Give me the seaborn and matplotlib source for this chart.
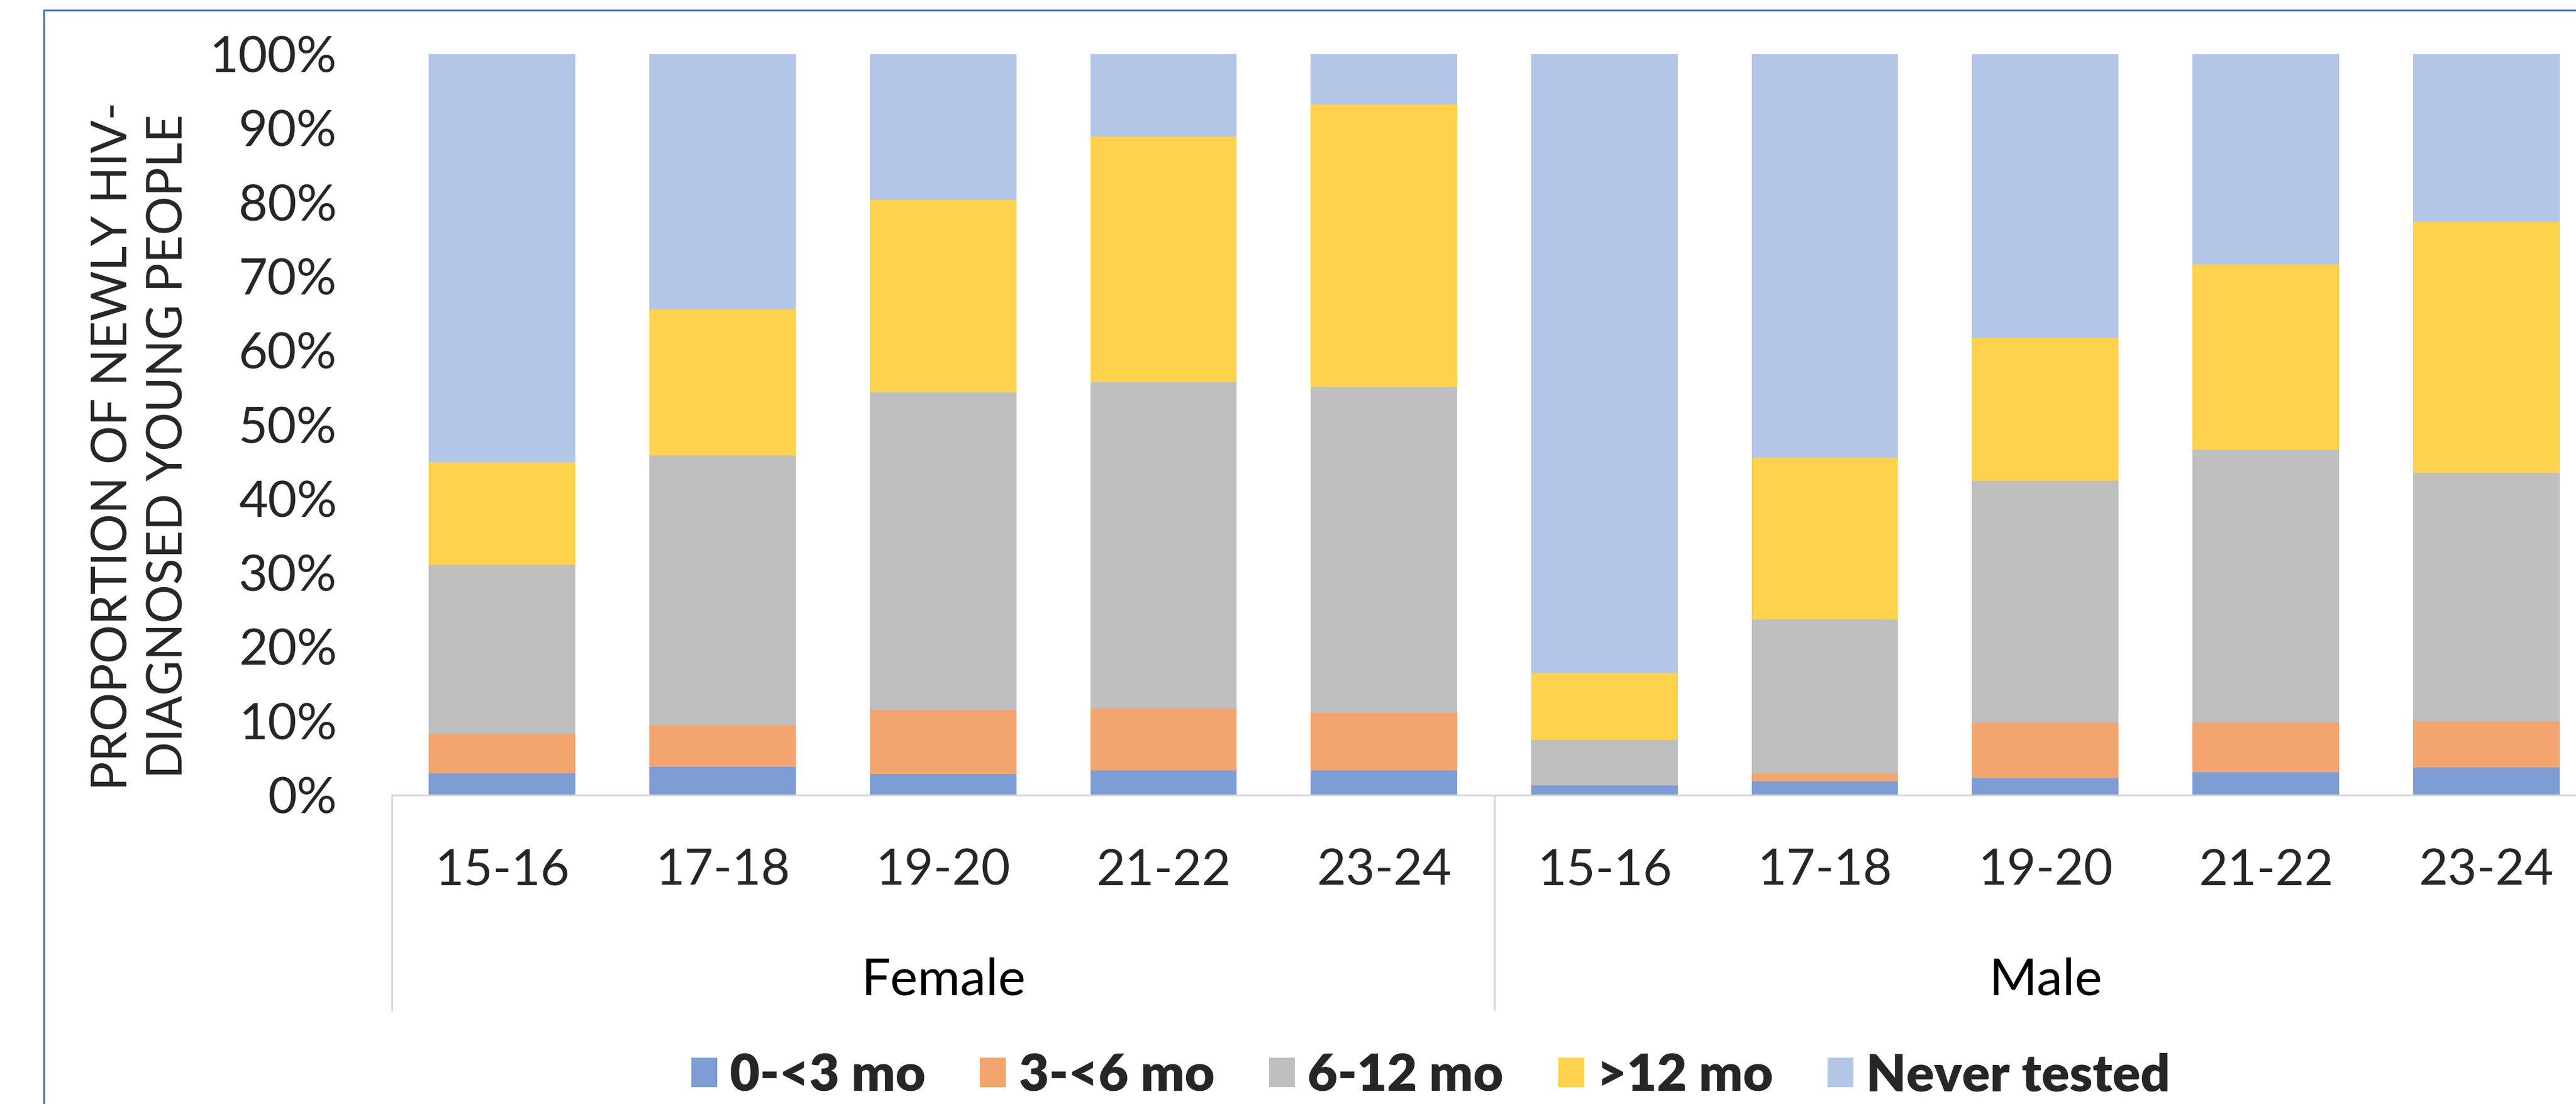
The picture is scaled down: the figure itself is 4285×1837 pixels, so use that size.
import numpy as np
import pandas as pd
import matplotlib
matplotlib.use("Agg")
import matplotlib.pyplot as plt
import matplotlib.transforms as mtransforms
from matplotlib.patches import Patch
import seaborn as sns

# ---------------- data ----------------
genders = ["Female", "Male"]
age_groups = ["15-16", "17-18", "19-20", "21-22", "23-24"]
series = ["0-<3 mo", "3-<6 mo", "6-12 mo", ">12 mo", "Never tested"]

# values in percent, one per bar (Female ages then Male ages)
v_0_3 = [2.9, 3.8, 2.8, 3.3, 3.3, 1.3, 1.9, 2.3, 3.1, 3.7]
v_3_6 = [5.4, 5.6, 8.6, 8.4, 7.8, 0.0, 1.0, 7.4, 6.7, 6.3]
v_6_12 = [22.8, 36.4, 42.9, 44.0, 44.0, 6.2, 20.8, 32.7, 36.8, 33.5]
v_12p = [13.8, 19.7, 26.0, 33.1, 38.1, 9.0, 21.8, 19.3, 25.0, 33.9]
v_never = [55.1, 34.5, 19.7, 11.2, 6.8, 83.5, 54.5, 38.3, 28.4, 22.6]

colors = ["#7F9DD5", "#F3A56F", "#BFBFBF", "#FFD24D", "#B4C6E7"]
border_blue = "#4472C4"

# ---------------- figure ----------------
sns.set_theme(style="white")
plt.rcParams["font.family"] = ["Lato", "DejaVu Sans"]

W, H = 4285, 1837
DPI = 100
fig = plt.figure(figsize=(W / DPI, H / DPI), dpi=DPI)

# blue frame lines (left and top)
fig.add_artist(plt.Line2D([73 / W, 73 / W], [0, 1 - 17 / H], color=border_blue, lw=2.2))
fig.add_artist(plt.Line2D([73 / W, 1], [1 - 17 / H, 1 - 17 / H], color=border_blue, lw=2.2))

ax_left, ax_right = 652, 4319
ax_top, ax_bot = 90, 1323
ax = fig.add_axes([ax_left / W, 1 - ax_bot / H, (ax_right - ax_left) / W, (ax_bot - ax_top) / H])

keys = [f"{g} {a}" for g in genders for a in age_groups]
vals = np.array([v_0_3, v_3_6, v_6_12, v_12p, v_never])
cum = np.cumsum(vals, axis=0)
cum = cum / cum[-1] * 100.0  # stacked to 100%

df = pd.DataFrame({
    "key": np.tile(keys, len(series)),
    "series": np.repeat(series, len(keys)),
    "top": cum.flatten(),
})

# draw cumulative bars from the top layer down so lower layers cover them
for i in range(len(series) - 1, -1, -1):
    sub = df[df["series"] == series[i]]
    sns.barplot(data=sub, x="key", y="top", order=keys, color=colors[i],
                saturation=1, width=0.665, errorbar=None, ax=ax,
                edgecolor="none", linewidth=0)

ax.set_xlim(-0.5, len(keys) - 0.5)
ax.set_ylim(0, 100)
ax.set_yticks(np.arange(0, 101, 10))
ax.set_yticklabels([f"{t}%" for t in range(0, 101, 10)], fontsize=60)
ax.set_xticks(range(len(keys)))
ax.set_xticklabels(age_groups * 2, fontsize=60)
ax.tick_params(axis="y", length=0, pad=66)
ax.tick_params(axis="x", length=0, pad=64)
ax.set_xlabel("")
ax.set_ylabel("")
for s in ["left", "top", "right"]:
    ax.spines[s].set_visible(False)
ax.spines["bottom"].set_color("#D9D9D9")
ax.spines["bottom"].set_linewidth(2.2)

# category group separators and labels
trans = mtransforms.blended_transform_factory(ax.transData, ax.transAxes)
sep_bottom = (ax_bot - 1681) / (ax_bot - ax_top)
for xs in [-0.5, 4.5, 9.5]:
    ax.plot([xs, xs], [0, sep_bottom], transform=trans, color="#D9D9D9",
            lw=2.2, clip_on=False)
grp_y = (ax_bot - 1632) / (ax_bot - ax_top)
for gi, g in enumerate(genders):
    ax.text(gi * 5 + 2, grp_y, g, transform=trans, ha="center", va="center",
            fontsize=62, color="black")

# y axis title
fig.text(235 / W, 1 - 742 / H, "PROPORTION OF NEWLY HIV-\nDIAGNOSED YOUNG PEOPLE",
         rotation=90, ha="center", va="center", multialignment="center",
         fontsize=58, linespacing=1.3)

# legend
handles = [Patch(facecolor=c, edgecolor="none") for c in colors]
leg = fig.legend(handles, series, loc="center", ncol=5,
                 bbox_to_anchor=(2380 / W, 1 - 1790 / H), frameon=False,
                 prop={"weight": "heavy", "size": 62},
                 handlelength=0.5, handleheight=0.5, handletextpad=0.25,
                 columnspacing=1.05)

fig.savefig("out.png", dpi=DPI, facecolor="white")
